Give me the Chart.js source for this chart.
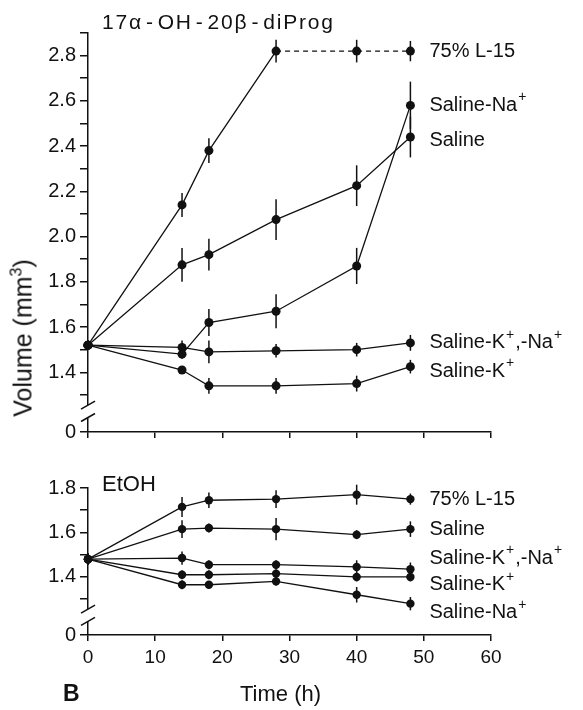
<!DOCTYPE html>
<html>
<head>
<meta charset="utf-8">
<script src="https://cdn.jsdelivr.net/npm/chart.js@4.4.0/dist/chart.umd.min.js"></script>
<style>
body { margin: 0; background: #fff; font-family: "Liberation Sans", Arial, sans-serif; color: #111; }
#wrap { position: relative; width: 583px; height: 710px; overflow: hidden; }
canvas { position: absolute; left: 0; }
.txt { position: absolute; white-space: nowrap; line-height: 1; }
.hy { margin: 0 3px; }
</style>
</head>
<body>
<div id="wrap">
  <canvas id="progChart" width="583" height="455" style="top:0"></canvas>
  <canvas id="etohChart" width="583" height="255" style="top:455px"></canvas>
  <div class="txt" style="left:102px;top:11px;font-size:21px;letter-spacing:1.8px">17α<span class="hy">-</span>OH<span class="hy">-</span>20β<span class="hy">-</span>diProg</div>
  <div class="txt" style="left:102px;top:473px;font-size:22px">EtOH</div>
  <div class="txt" style="left:22px;top:338px;font-size:25px;transform:translate(-50%,-50%) rotate(-90deg)">Volume (mm<sup style="font-size:16px;vertical-align:10px">3</sup>)</div>
  <div class="txt" style="left:240px;top:683px;font-size:22px">Time (h)</div>
  <div class="txt" style="left:63px;top:682px;font-size:23px;font-weight:bold">B</div>
</div>
<script>
// sampling times (h)
var hours = [0, 14, 18, 28, 40, 48];

// 17a-OH-20b-diProg, volume (mm3) and s.e.m.
var progL15      = [1.52, 2.14, 2.38, 2.82, 2.82, 2.82];
var progL15Err   = [0.02, 0.053, 0.055, 0.05, 0.05, 0.045];
var progNa       = [1.52, 1.48, 1.62, 1.67, 1.87, 2.58];
var progNaErr    = [0.02, 0.02, 0.06, 0.075, 0.08, 0.105];
var progSal      = [1.52, 1.875, 1.92, 2.075, 2.225, 2.44];
var progSalErr   = [0.02, 0.075, 0.07, 0.09, 0.09, 0.09];
var progKNa      = [1.52, 1.51, 1.49, 1.495, 1.50, 1.53];
var progKNaErr   = [0.02, 0.03, 0.05, 0.03, 0.03, 0.035];
var progK        = [1.52, 1.41, 1.34, 1.34, 1.35, 1.425];
var progKErr     = [0.02, 0.01, 0.035, 0.035, 0.035, 0.03];

// EtOH controls
var etohL15      = [1.48, 1.715, 1.745, 1.75, 1.77, 1.75];
var etohL15Err   = [0.025, 0.045, 0.035, 0.04, 0.045, 0.025];
var etohSal      = [1.48, 1.615, 1.62, 1.615, 1.59, 1.615];
var etohSalErr   = [0.025, 0.04, 0.02, 0.05, 0.02, 0.035];
var etohKNa      = [1.48, 1.485, 1.455, 1.455, 1.445, 1.435];
var etohKNaErr   = [0.025, 0.03, 0.02, 0.02, 0.03, 0.03];
var etohK        = [1.48, 1.41, 1.41, 1.415, 1.40, 1.40];
var etohKErr     = [0.025, 0.02, 0.02, 0.02, 0.02, 0.02];
var etohNa       = [1.48, 1.365, 1.365, 1.38, 1.32, 1.28];
var etohNaErr    = [0.025, 0.02, 0.015, 0.02, 0.035, 0.03];

// axis ticks (the lowest value of each axis is shown as 0 below the break)
var progTicks = [1.3, 1.4, 1.5, 1.6, 1.7, 1.8, 1.9, 2.0, 2.1, 2.2, 2.3, 2.4, 2.5, 2.6, 2.7, 2.8, 2.9];
var etohTicks = [1.3, 1.4, 1.5, 1.6, 1.7, 1.8];
var timeTicks = [0, 10, 20, 30, 40, 50, 60];

var INK = '#111';
Chart.defaults.font.family = '"Liberation Sans", Arial, sans-serif';
Chart.defaults.font.size = 19;
Chart.defaults.color = INK;

function series(tag, vals, errs, extra) {
  var ds = {
    label: tag,
    tag: tag,
    data: vals.map(function (v, i) { return { x: hours[i], y: v }; }),
    err: errs,
    borderColor: INK,
    borderWidth: 1.3,
    pointRadius: 4.5,
    pointBackgroundColor: INK,
    pointBorderWidth: 0,
    tension: 0,
    fill: false,
    clip: false,
    tagDy: 0
  };
  return Object.assign(ds, extra || {});
}

// vertical s.e.m. bars
var errorBars = {
  id: 'errorBars',
  beforeDatasetsDraw: function (chart) {
    var ctx = chart.ctx, y = chart.scales.y;
    ctx.save();
    ctx.strokeStyle = INK;
    ctx.lineWidth = 1.5;
    chart.data.datasets.forEach(function (ds, i) {
      chart.getDatasetMeta(i).data.forEach(function (pt, j) {
        var e = ds.err[j], v = ds.data[j].y;
        if (!e) return;
        ctx.beginPath();
        ctx.moveTo(pt.x, y.getPixelForValue(v + e));
        ctx.lineTo(pt.x, y.getPixelForValue(v - e));
        ctx.stroke();
      });
    });
    ctx.restore();
  }
};

// text with a raised "+" for the ion names
function drawRich(ctx, text, x, y) {
  var parts = text.split('⁺');
  parts.forEach(function (p, k) {
    ctx.font = '20px "Liberation Sans", Arial, sans-serif';
    ctx.fillText(p, x, y);
    x += ctx.measureText(p).width;
    if (k < parts.length - 1) {
      ctx.font = '14px "Liberation Sans", Arial, sans-serif';
      ctx.fillText('+', x + 1, y - 8);
      x += ctx.measureText('+').width + 2;
    }
  });
}

// series names next to the last point
var endTags = {
  id: 'endTags',
  afterDatasetsDraw: function (chart) {
    var ctx = chart.ctx;
    ctx.save();
    ctx.fillStyle = INK;
    ctx.textBaseline = 'middle';
    ctx.textAlign = 'left';
    chart.data.datasets.forEach(function (ds, i) {
      var pts = chart.getDatasetMeta(i).data;
      var last = pts[pts.length - 1];
      drawRich(ctx, ds.tag, last.x + 19, last.y + ds.tagDy);
    });
    ctx.restore();
  }
};

// gap with two slashes on the y axis
var axisBreak = {
  id: 'axisBreak',
  afterDraw: function (chart, args, opts) {
    var ctx = chart.ctx, y = chart.scales.y, x0 = chart.chartArea.left;
    var p1 = y.getPixelForValue(opts.from), p2 = y.getPixelForValue(opts.to);
    ctx.save();
    ctx.fillStyle = '#fff';
    ctx.fillRect(x0 - 3, p1, 6, p2 - p1);
    ctx.strokeStyle = INK;
    ctx.lineWidth = 1.5;
    [p1, p2].forEach(function (p) {
      ctx.beginPath();
      ctx.moveTo(x0 - 7, p + 4);
      ctx.lineTo(x0 + 7, p - 4);
      ctx.stroke();
    });
    ctx.restore();
  }
};

function yAxis(min, max, marks) {
  return {
    type: 'linear',
    min: min,
    max: max,
    afterBuildTicks: function (s) {
      s.ticks = [min].concat(marks).map(function (v) { return { value: v }; });
    },
    afterFit: function (s) { s.width = 88; },
    border: { color: INK, width: 1.5 },
    grid: { drawOnChartArea: false, tickLength: 8, color: INK, lineWidth: 1.5 },
    ticks: {
      autoSkip: false,
      padding: 4,
      font: { size: 20 },
      callback: function (v) {
        if (v === min) return '0';
        return Math.round(v * 10) % 2 === 0 ? v.toFixed(1) : '';
      }
    }
  };
}

function xAxis(showLabels, height) {
  return {
    type: 'linear',
    min: 0,
    max: 60,
    afterBuildTicks: function (s) {
      s.ticks = timeTicks.map(function (v) { return { value: v }; });
    },
    afterFit: function (s) { s.height = height; },
    border: { color: INK, width: 1.5 },
    grid: { drawOnChartArea: false, tickLength: 6, color: INK, lineWidth: 1.5 },
    ticks: { display: showLabels, autoSkip: false, maxRotation: 0, padding: 5 }
  };
}

function baseOptions(yCfg, xCfg, top) {
  return {
    responsive: false,
    animation: false,
    devicePixelRatio: 1,
    layout: { padding: { top: top, right: 92, left: 0, bottom: 0 } },
    scales: { x: xCfg, y: yCfg },
    plugins: {
      legend: { display: false },
      tooltip: { enabled: false },
      axisBreak: { from: 1.255, to: 1.2 }
    }
  };
}

new Chart(document.getElementById('progChart'), {
  type: 'line',
  data: {
    datasets: [
      series('75% L-15', progL15, progL15Err, {
        segment: { borderDash: function (c) { return c.p0DataIndex >= 3 ? [5, 4] : undefined; } }
      }),
      series('Saline-Na⁺', progNa, progNaErr),
      series('Saline', progSal, progSalErr, { tagDy: 3 }),
      series('Saline-K⁺,-Na⁺', progKNa, progKNaErr),
      series('Saline-K⁺', progK, progKErr, { tagDy: 5 })
    ]
  },
  options: baseOptions(yAxis(1.136, 2.9, progTicks), xAxis(false, 23), 33),
  plugins: [errorBars, endTags, axisBreak]
});

new Chart(document.getElementById('etohChart'), {
  type: 'line',
  data: {
    datasets: [
      series('75% L-15', etohL15, etohL15Err, { pointRadius: 4.2 }),
      series('Saline', etohSal, etohSalErr, { pointRadius: 4.2 }),
      series('Saline-K⁺,-Na⁺', etohKNa, etohKNaErr, { pointRadius: 4.2, tagDy: -11 }),
      series('Saline-K⁺', etohK, etohKErr, { pointRadius: 4.2, tagDy: 8 }),
      series('Saline-Na⁺', etohNa, etohNaErr, { pointRadius: 4.2, tagDy: 9 })
    ]
  },
  options: baseOptions(yAxis(1.139, 1.8, etohTicks), xAxis(true, 75), 33),
  plugins: [errorBars, endTags, axisBreak]
});
</script>
</body>
</html>
